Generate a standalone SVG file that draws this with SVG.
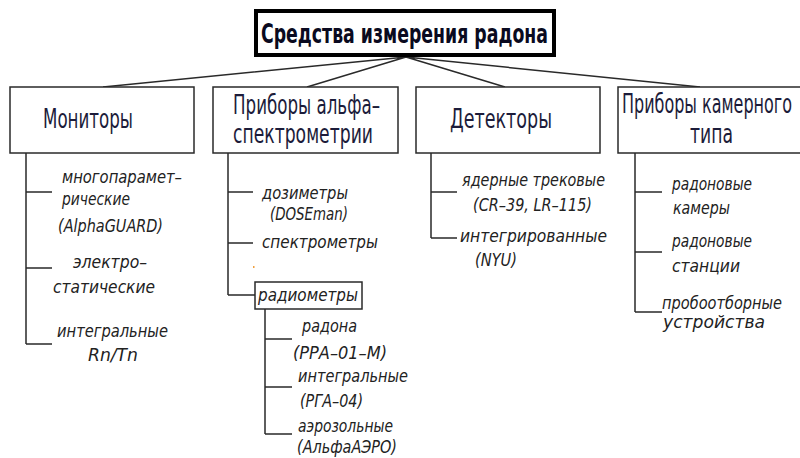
<svg xmlns="http://www.w3.org/2000/svg" width="800" height="458" viewBox="0 0 800 458">
<style>
  .bg{fill:#ffffff}
  .box{fill:#ffffff;stroke:#2a2a2a;stroke-width:1.5}
  .tbox{fill:#ffffff;stroke:#000000;stroke-width:4}
  .ln{fill:none;stroke:#2a2a2a;stroke-width:1.5}
  .title{font-family:"DejaVu Sans Condensed","Liberation Sans Narrow","Liberation Sans",sans-serif;font-size:27px;font-weight:bold;fill:#0a0a20}
  .head{font-family:"DejaVu Sans Condensed","Liberation Sans Narrow","Liberation Sans",sans-serif;font-size:26px;fill:#1c1c3a}
  .item{font-family:"DejaVu Sans Condensed","Liberation Sans Narrow","Liberation Sans",sans-serif;font-size:18px;font-style:italic;fill:#222222}
</style>
<rect class="bg" x="0" y="0" width="800" height="458"/>

<g id="connectors">
  <path class="ln" d="M406,57 L103,87 M406,57 L307,87 M406,57 L505,87 M406,57 L700,87"/>
  <path class="ln" d="M26,153 V344 M26,192 H52 M26,268 H52 M26,344 H52"/>
  <path class="ln" d="M228,153 V295 M228,192 H253 M228,243 H253 M228,295 H255"/>
  <path class="ln" d="M265,309 V434 M265,339 H292 M265,387 H292 M265,434 H292"/>
  <path class="ln" d="M431,153 V238 M431,192 H457 M431,238 H457"/>
  <path class="ln" d="M635,153 V312 M635,192 H662 M635,252 H662 M635,312 H662"/>
</g>

<g id="root">
  <rect class="tbox" x="256" y="11" width="298" height="44"/>
  <text class="title" x="261" y="43" textLength="287" lengthAdjust="spacingAndGlyphs">Средства измерения радона</text>
</g>

<g id="monitors">
  <rect class="box" x="10" y="87" width="184" height="66"/>
  <text class="head" x="43" y="128" textLength="90" lengthAdjust="spacingAndGlyphs">Мониторы</text>
</g>
<g id="monitors-items">
  <text class="item" x="62" y="183" textLength="120" lengthAdjust="spacingAndGlyphs">многопарамет–</text>
  <text class="item" x="62" y="205" textLength="68" lengthAdjust="spacingAndGlyphs">рические</text>
  <text class="item" x="58" y="232" textLength="105" lengthAdjust="spacingAndGlyphs">(AlphaGUARD)</text>
  <text class="item" x="73" y="268" textLength="74" lengthAdjust="spacingAndGlyphs">электро–</text>
  <text class="item" x="53" y="293" textLength="102" lengthAdjust="spacingAndGlyphs">статические</text>
  <text class="item" x="57" y="337" textLength="111" lengthAdjust="spacingAndGlyphs">интегральные</text>
  <text class="item" x="88" y="361" textLength="50" lengthAdjust="spacingAndGlyphs">Rn/Tn</text>
</g>

<g id="alpha">
  <rect class="box" x="213" y="87" width="185" height="66"/>
  <text class="head" x="233" y="114" textLength="147" lengthAdjust="spacingAndGlyphs">Приборы альфа–</text>
  <text class="head" x="233" y="143" textLength="140" lengthAdjust="spacingAndGlyphs">спектрометрии</text>
</g>
<g id="alpha-items">
  <text class="item" x="262" y="199" textLength="86" lengthAdjust="spacingAndGlyphs">дозиметры</text>
  <text class="item" x="270" y="220" textLength="78" lengthAdjust="spacingAndGlyphs">(DOSEman)</text>
  <text class="item" x="262" y="248" textLength="116" lengthAdjust="spacingAndGlyphs">спектрометры</text>
  <rect x="253" y="266" width="1.5" height="2" fill="#f0a040"/>
</g>
<g id="radiometers">
  <rect class="box" x="255" y="282" width="107" height="27"/>
  <text class="item" x="258" y="301" textLength="100" lengthAdjust="spacingAndGlyphs">радиометры</text>
</g>
<g id="radiometers-items">
  <text class="item" x="302" y="332" textLength="55" lengthAdjust="spacingAndGlyphs">радона</text>
  <text class="item" x="293" y="359" textLength="94" lengthAdjust="spacingAndGlyphs">(РРА–01–М)</text>
  <text class="item" x="298" y="382" textLength="110" lengthAdjust="spacingAndGlyphs">интегральные</text>
  <text class="item" x="300" y="407" textLength="63" lengthAdjust="spacingAndGlyphs">(РГА–04)</text>
  <text class="item" x="298" y="432" textLength="95" lengthAdjust="spacingAndGlyphs">аэрозольные</text>
  <text class="item" x="297" y="453" textLength="100" lengthAdjust="spacingAndGlyphs">(АльфаАЭРО)</text>
</g>

<g id="detectors">
  <rect class="box" x="416" y="87" width="184" height="66"/>
  <text class="head" x="450" y="128" textLength="102" lengthAdjust="spacingAndGlyphs">Детекторы</text>
</g>
<g id="detectors-items">
  <text class="item" x="462" y="186" textLength="143" lengthAdjust="spacingAndGlyphs">ядерные трековые</text>
  <text class="item" x="473" y="211" textLength="119" lengthAdjust="spacingAndGlyphs">(CR–39, LR–115)</text>
  <text class="item" x="460" y="242" textLength="147" lengthAdjust="spacingAndGlyphs">интегрированные</text>
  <text class="item" x="475" y="266" textLength="42" lengthAdjust="spacingAndGlyphs">(NYU)</text>
</g>

<g id="chamber">
  <path class="box" d="M800,87 H618 V153 H800"/>
  <text class="head" x="622" y="113" textLength="170" lengthAdjust="spacingAndGlyphs">Приборы камерного</text>
  <text class="head" x="690" y="143" textLength="43" lengthAdjust="spacingAndGlyphs">типа</text>
</g>
<g id="chamber-items">
  <text class="item" x="672" y="190" textLength="80" lengthAdjust="spacingAndGlyphs">радоновые</text>
  <text class="item" x="673" y="214" textLength="57" lengthAdjust="spacingAndGlyphs">камеры</text>
  <text class="item" x="672" y="247" textLength="80" lengthAdjust="spacingAndGlyphs">радоновые</text>
  <text class="item" x="672" y="272" textLength="68" lengthAdjust="spacingAndGlyphs">станции</text>
  <text class="item" x="662" y="309" textLength="120" lengthAdjust="spacingAndGlyphs">пробоотборные</text>
  <text class="item" x="663" y="328" textLength="102" lengthAdjust="spacingAndGlyphs">устройства</text>
</g>
</svg>
